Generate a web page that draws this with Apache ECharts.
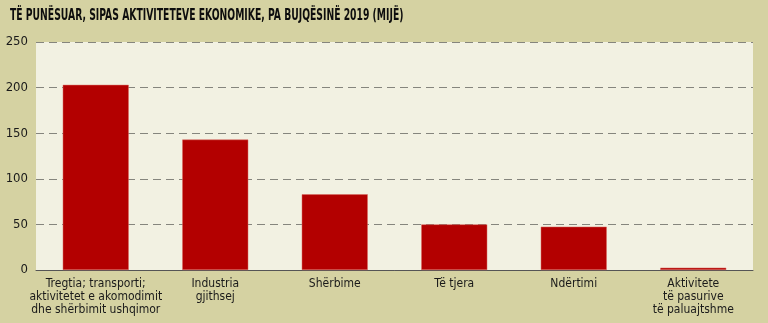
<!DOCTYPE html>
<html>
<head>
<meta charset="utf-8">
<script src="https://cdn.jsdelivr.net/npm/echarts@6/dist/echarts.min.js"></script>
<style>
html,body{margin:0;padding:0;background:#d5d2a2;}
#c{width:768px;height:323px;}
</style>
</head>
<body>
<div id="c"></div>
<script>
const titleText = 'TË PUNËSUAR, SIPAS AKTIVITETEVE EKONOMIKE, PA BUJQËSINË 2019 (MIJË)';
const categories = [
  'Tregtia; transporti;\naktivitetet e akomodimit\ndhe shërbimit ushqimor',
  'Industria\ngjithsej',
  'Shërbime',
  'Të tjera',
  'Ndërtimi',
  'Aktivitete\ntë pasurive\ntë paluajtshme'
];
const values = [203, 143, 83, 50, 47.5, 2.5];
const yTicks = [0, 50, 100, 150, 200, 250];

const font = '"Liberation Sans Narrow", "DejaVu Sans Condensed", "Roboto Condensed", sans-serif';
const chart = echarts.init(document.getElementById('c'));
chart.setOption({
  backgroundColor: '#d5d2a2',
  animation: false,
  graphic: [{
    type: 'text',
    left: 10, top: 8,
    scaleX: 0.642,
    style: {text: titleText, font: 'bold 16px ' + font, fill: '#0d0d0d'}
  }],
  grid: {
    left: 36, right: 15, top: 42, bottom: 53,
    show: true, backgroundColor: '#f2f1e2', borderWidth: 0
  },
  xAxis: {
    type: 'category',
    data: categories,
    axisLine: {lineStyle: {color: '#555', width: 1}},
    axisTick: {show: false},
    axisLabel: {
      fontFamily: font, fontSize: 12, color: '#1a1a1a', lineHeight: 13, margin: 7,
      interval: 0
    }
  },
  yAxis: {
    type: 'value',
    min: yTicks[0], max: yTicks[yTicks.length - 1], interval: 50,
    axisLine: {show: false},
    axisTick: {show: false},
    axisLabel: {fontFamily: font, fontSize: 13, color: '#1a1a1a', margin: 8,
      formatter: v => yTicks.includes(v) ? String(v) : ''},
    splitLine: {lineStyle: {color: '#85857d', type: [8, 5], width: 1}}
  },
  series: [{
    type: 'bar',
    data: values,
    barWidth: 66,
    itemStyle: {color: '#b30000', borderColor: '#d86a60', borderWidth: 0.5}
  }]
});
</script>
</body>
</html>
